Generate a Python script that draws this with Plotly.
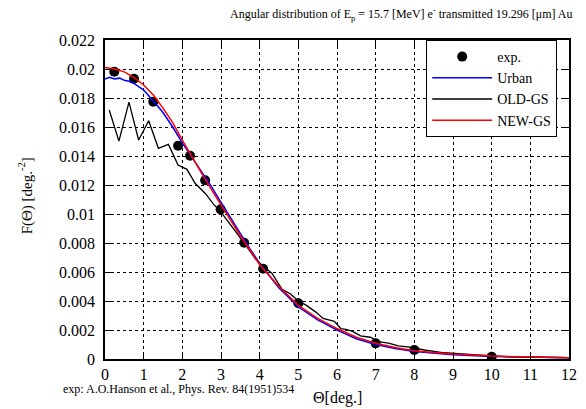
import plotly.graph_objects as go

# experimental data (A.O.Hanson et al.)
theta_exp = [0.24, 0.75, 1.25, 1.89, 2.2, 2.59, 2.99, 3.6, 4.09, 5.0, 7.0, 8.0, 10.0]
f_exp = [0.01981, 0.01933, 0.01774, 0.01471, 0.01402, 0.01232, 0.01032, 0.00802,
         0.00623, 0.00384, 0.00108, 0.00062, 0.00016]

# Urban model
theta_urban = [0, 0.12, 0.25, 0.38, 0.5, 0.62, 0.75, 1.0, 1.25, 1.5, 1.75, 2.0, 2.25, 2.5,
               2.75, 3.0, 3.25, 3.5, 3.75, 4.0, 4.5, 5.0, 5.5, 6.0, 6.5, 7.0, 7.5, 8.0,
               8.5, 9.0, 10.0, 11.0, 12.0]
f_urban = [0.0193, 0.01942, 0.01932, 0.01937, 0.01922, 0.01915, 0.0190, 0.01855, 0.0178,
           0.0170, 0.0160, 0.0149, 0.0139, 0.0129, 0.0119, 0.0108, 0.0097, 0.0087, 0.0076,
           0.0066, 0.0049, 0.0036, 0.0027, 0.0020, 0.0014, 0.00100, 0.00073, 0.00052,
           0.0004, 0.0003, 0.00018, 0.00011, 0.00008]

# OLD-GS model
theta_old = [0.11, 0.36, 0.62, 0.87, 1.13, 1.38, 1.64, 1.89, 2.12, 2.33, 2.6, 2.8, 3.01,
             3.3, 3.6, 3.92, 4.11, 4.32, 4.58, 4.79, 5.0, 5.21, 5.47, 5.64, 5.93, 6.1,
             6.23, 6.4, 6.61, 6.86, 7.08, 7.33, 7.59, 7.93, 8.26, 8.77, 9.62, 10.47,
             11.3, 12.0]
f_old = [0.01717, 0.01503, 0.01772, 0.0151, 0.01643, 0.01453, 0.0148, 0.01338, 0.01308,
         0.01212, 0.0114, 0.0107, 0.0101, 0.0091, 0.0080, 0.0068, 0.0064, 0.0059, 0.0048,
         0.0045, 0.0040, 0.0037, 0.0032, 0.0028, 0.0026, 0.0021, 0.00205, 0.0019, 0.0016,
         0.0015, 0.0012, 0.0011, 0.0009, 0.0008, 0.00062, 0.00043, 0.00028, 0.00015,
         0.00012, 0.0001]

# NEW-GS model
theta_new = [0, 0.25, 0.5, 0.75, 1.0, 1.25, 1.5, 1.75, 2.0, 2.25, 2.5, 2.75, 3.0, 3.25,
             3.5, 3.75, 4.0, 4.5, 5.0, 5.5, 6.0, 6.5, 7.0, 7.5, 8.0, 8.5, 9.0, 10.0,
             11.0, 12.0]
f_new = [0.0201, 0.0200, 0.0198, 0.0194, 0.0189, 0.0182, 0.0173, 0.0163, 0.0151, 0.0139,
         0.0128, 0.0117, 0.0106, 0.0095, 0.0085, 0.0075, 0.0065, 0.0050, 0.0037, 0.0028,
         0.0021, 0.0015, 0.00108, 0.0008, 0.00057, 0.00044, 0.00034, 0.0002, 0.00013,
         0.00009]

y_tickvals = [0, 0.002, 0.004, 0.006, 0.008, 0.01, 0.012, 0.014, 0.016, 0.018, 0.02, 0.022]
y_ticktext = ["0", "0.002", "0.004", "0.006", "0.008", "0.01", "0.012", "0.014",
              "0.016", "0.018", "0.02", "0.022"]
x_tickvals = list(range(0, 13))

SERIF = "Liberation Serif"

fig = go.Figure()
fig.add_trace(go.Scatter(x=theta_exp, y=f_exp, mode="markers", name="exp.",
                         marker=dict(color="black", size=10)))
fig.add_trace(go.Scatter(x=theta_urban, y=f_urban, mode="lines", name="Urban",
                         line=dict(color="#0000ff", width=1.5)))
fig.add_trace(go.Scatter(x=theta_old, y=f_old, mode="lines", name="OLD-GS",
                         line=dict(color="black", width=1.3)))
fig.add_trace(go.Scatter(x=theta_new, y=f_new, mode="lines", name="NEW-GS",
                         line=dict(color="#ff0000", width=1.5)))

axis_common = dict(showline=True, linecolor="black", linewidth=1.5, mirror="allticks",
                   ticks="inside", ticklen=7, tickcolor="black", tickwidth=1,
                   showgrid=True, gridcolor="black", griddash="dot", gridwidth=1,
                   zeroline=False, tickfont=dict(family=SERIF, size=16, color="black"))

fig.update_xaxes(range=[0, 12], tickvals=x_tickvals, **axis_common)
fig.update_yaxes(range=[0, 0.022], tickvals=y_tickvals, ticktext=y_ticktext,
                 ticklabelstandoff=5, **axis_common)

W, H = 586, 409
L, R, T, B = 105, 9, 40, 50
pw, ph = W - L - R, H - T - B


def px(x):
    return (x - L) / pw


def py(y):
    return (H - B - y) / ph


fig.update_layout(
    width=W, height=H,
    margin=dict(l=L, r=R, t=T, b=B),
    plot_bgcolor="white", paper_bgcolor="white",
    font=dict(family=SERIF, color="black"),
    showlegend=True,
    legend=dict(x=px(565), xanchor="right", y=1.0, yanchor="top",
                bgcolor="white", bordercolor="black", borderwidth=1,
                font=dict(family=SERIF, size=14, color="black"),
                itemwidth=60, tracegroupgap=0),
)

fig.add_annotation(text="Angular distribution of E<sub>p</sub> = 15.7 [MeV] e<sup>-</sup> transmitted 19.296 [\u03bcm] Au",
                   x=px(582), y=py(14), xref="paper", yref="paper", xanchor="right",
                   yanchor="middle", showarrow=False,
                   font=dict(family=SERIF, size=12, color="black"))
fig.add_annotation(text="F(\u0398) [deg.<sup>-2</sup>]", textangle=-90,
                   x=px(24), y=py(196), xref="paper", yref="paper", xanchor="center",
                   yanchor="middle", showarrow=False,
                   font=dict(family=SERIF, size=15, color="black"))
fig.add_annotation(text="\u0398[deg.]",
                   x=px(342), y=py(398), xref="paper", yref="paper", xanchor="center",
                   yanchor="middle", showarrow=False,
                   font=dict(family=SERIF, size=16, color="black"))
fig.add_annotation(text="exp: A.O.Hanson et al., Phys. Rev. 84(1951)534",
                   x=px(60), y=py(389), xref="paper", yref="paper", xanchor="left",
                   yanchor="middle", showarrow=False,
                   font=dict(family=SERIF, size=12, color="black"))

fig.write_html("out.html")
